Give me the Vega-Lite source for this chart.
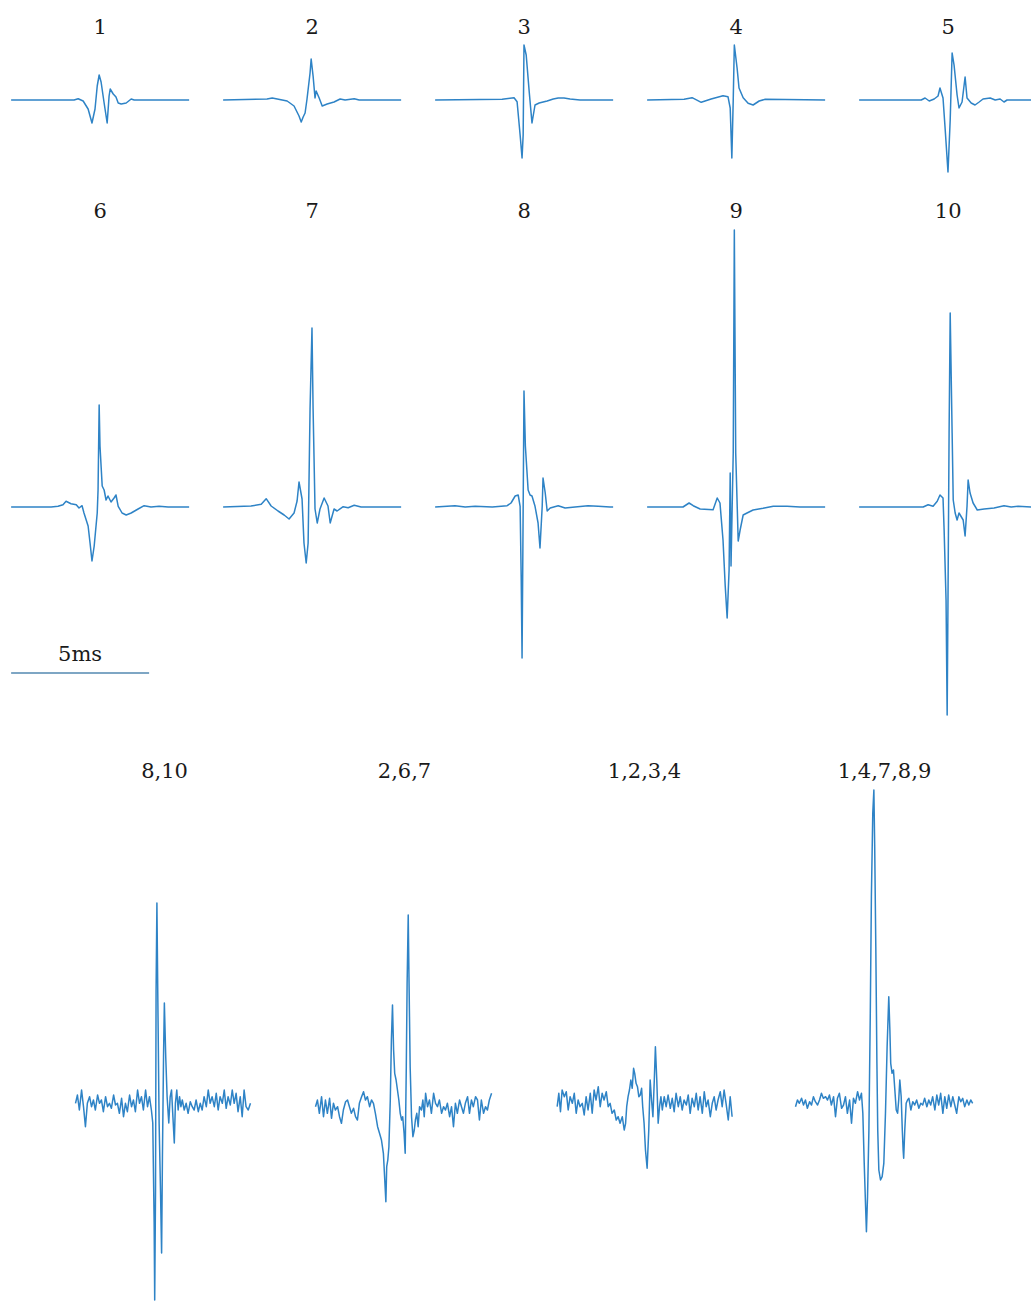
{
"$schema":"https://vega.github.io/schema/vega-lite/v6.json",
"padding":{"left":10,"top":17,"right":0,"bottom":0},
"config":{"view":{"stroke":null},"header":{"labelFont":"DejaVu Serif","labelFontSize":21,"labelColor":"#1a1a1a","labelPadding":0}},
"data":{"values":[
{"p":"1","t":0,"v":0},{"p":"1","t":2.28,"v":0},{"p":"1","t":2.43,"v":1.3},{"p":"1","t":2.61,"v":-1},{"p":"1","t":2.79,"v":-9},{"p":"1","t":2.93,"v":-23},{"p":"1","t":3.04,"v":-9},{"p":"1","t":3.12,"v":14},{"p":"1","t":3.19,"v":25},{"p":"1","t":3.26,"v":18},{"p":"1","t":3.37,"v":-3},{"p":"1","t":3.48,"v":-23},{"p":"1","t":3.55,"v":4},{"p":"1","t":3.59,"v":11},{"p":"1","t":3.70,"v":6},{"p":"1","t":3.80,"v":3},{"p":"1","t":3.88,"v":-3},{"p":"1","t":3.99,"v":-4},{"p":"1","t":4.17,"v":-3},{"p":"1","t":4.35,"v":1},{"p":"1","t":4.46,"v":0},{"p":"1","t":6.45,"v":0},
{"p":"2","t":0,"v":0},{"p":"2","t":1.59,"v":1},{"p":"2","t":1.78,"v":2},{"p":"2","t":1.96,"v":1},{"p":"2","t":2.32,"v":-1},{"p":"2","t":2.57,"v":-6},{"p":"2","t":2.75,"v":-16},{"p":"2","t":2.83,"v":-22},{"p":"2","t":2.90,"v":-17},{"p":"2","t":2.97,"v":-13},{"p":"2","t":3.04,"v":1},{"p":"2","t":3.15,"v":27},{"p":"2","t":3.19,"v":41},{"p":"2","t":3.26,"v":24},{"p":"2","t":3.33,"v":2},{"p":"2","t":3.37,"v":9},{"p":"2","t":3.48,"v":2},{"p":"2","t":3.59,"v":-6},{"p":"2","t":3.77,"v":-4},{"p":"2","t":4.02,"v":-2},{"p":"2","t":4.24,"v":1},{"p":"2","t":4.42,"v":0},{"p":"2","t":4.75,"v":1.3},{"p":"2","t":4.93,"v":0},{"p":"2","t":6.45,"v":0},
{"p":"3","t":0,"v":0},{"p":"3","t":2.43,"v":0.7},{"p":"3","t":2.86,"v":2.3},{"p":"3","t":2.97,"v":-1.7},{"p":"3","t":3.08,"v":-35},{"p":"3","t":3.15,"v":-58},{"p":"3","t":3.19,"v":-35},{"p":"3","t":3.22,"v":55},{"p":"3","t":3.30,"v":45},{"p":"3","t":3.41,"v":8},{"p":"3","t":3.51,"v":-23},{"p":"3","t":3.62,"v":-5},{"p":"3","t":3.77,"v":-3},{"p":"3","t":4.06,"v":-1},{"p":"3","t":4.28,"v":1},{"p":"3","t":4.46,"v":2},{"p":"3","t":4.67,"v":2},{"p":"3","t":4.89,"v":1},{"p":"3","t":5.25,"v":0},{"p":"3","t":6.45,"v":0},
{"p":"4","t":0,"v":0},{"p":"4","t":1.34,"v":0.7},{"p":"4","t":1.63,"v":2.3},{"p":"4","t":1.96,"v":-2.3},{"p":"4","t":2.32,"v":1},{"p":"4","t":2.75,"v":4.3},{"p":"4","t":2.93,"v":3.3},{"p":"4","t":3.01,"v":-8},{"p":"4","t":3.07,"v":-58},{"p":"4","t":3.12,"v":0},{"p":"4","t":3.16,"v":55},{"p":"4","t":3.26,"v":32},{"p":"4","t":3.33,"v":12},{"p":"4","t":3.48,"v":2.3},{"p":"4","t":3.66,"v":-3.3},{"p":"4","t":3.84,"v":-5},{"p":"4","t":4.06,"v":-1},{"p":"4","t":4.28,"v":0.7},{"p":"4","t":6.45,"v":0},
{"p":"5","t":0,"v":0},{"p":"5","t":2.25,"v":0},{"p":"5","t":2.39,"v":2},{"p":"5","t":2.54,"v":-1},{"p":"5","t":2.72,"v":1},{"p":"5","t":2.86,"v":4},{"p":"5","t":2.93,"v":12},{"p":"5","t":3.04,"v":2},{"p":"5","t":3.12,"v":-30},{"p":"5","t":3.22,"v":-72},{"p":"5","t":3.30,"v":-20},{"p":"5","t":3.37,"v":47},{"p":"5","t":3.44,"v":35},{"p":"5","t":3.55,"v":5},{"p":"5","t":3.62,"v":-8},{"p":"5","t":3.73,"v":-2},{"p":"5","t":3.84,"v":23},{"p":"5","t":3.91,"v":2},{"p":"5","t":4.06,"v":-3},{"p":"5","t":4.20,"v":-5},{"p":"5","t":4.35,"v":-2},{"p":"5","t":4.49,"v":1},{"p":"5","t":4.75,"v":2},{"p":"5","t":4.93,"v":0},{"p":"5","t":5.11,"v":1},{"p":"5","t":5.25,"v":-2},{"p":"5","t":5.36,"v":0},{"p":"5","t":6.45,"v":0},
{"p":"6","t":0,"v":0},{"p":"6","t":1.45,"v":0},{"p":"6","t":1.70,"v":0.7},{"p":"6","t":1.88,"v":2.3},{"p":"6","t":1.99,"v":5.7},{"p":"6","t":2.17,"v":3.3},{"p":"6","t":2.36,"v":2.3},{"p":"6","t":2.46,"v":-1},{"p":"6","t":2.57,"v":1.3},{"p":"6","t":2.64,"v":-6},{"p":"6","t":2.79,"v":-19},{"p":"6","t":2.86,"v":-36},{"p":"6","t":2.93,"v":-54},{"p":"6","t":3.01,"v":-39},{"p":"6","t":3.12,"v":-6},{"p":"6","t":3.15,"v":17},{"p":"6","t":3.19,"v":102},{"p":"6","t":3.22,"v":61},{"p":"6","t":3.30,"v":21},{"p":"6","t":3.37,"v":17},{"p":"6","t":3.44,"v":7},{"p":"6","t":3.51,"v":11},{"p":"6","t":3.62,"v":5},{"p":"6","t":3.73,"v":9},{"p":"6","t":3.80,"v":12},{"p":"6","t":3.88,"v":0.7},{"p":"6","t":4.02,"v":-6},{"p":"6","t":4.17,"v":-8},{"p":"6","t":4.35,"v":-6},{"p":"6","t":4.60,"v":-2},{"p":"6","t":4.82,"v":1.3},{"p":"6","t":5.07,"v":0},{"p":"6","t":5.36,"v":0.7},{"p":"6","t":5.69,"v":0},{"p":"6","t":6.45,"v":0},
{"p":"6","k":"bar","t":0,"t2":5,"v":-166},
{"p":"6","k":"lbl","t":2.5,"v":-148,"s":"5ms"},
{"p":"7","t":0,"v":0},{"p":"7","t":1.01,"v":1},{"p":"7","t":1.38,"v":2.7},{"p":"7","t":1.56,"v":8.3},{"p":"7","t":1.74,"v":1},{"p":"7","t":1.99,"v":-4},{"p":"7","t":2.21,"v":-8},{"p":"7","t":2.39,"v":-12},{"p":"7","t":2.57,"v":-6},{"p":"7","t":2.68,"v":6},{"p":"7","t":2.75,"v":25},{"p":"7","t":2.86,"v":8},{"p":"7","t":2.93,"v":-36},{"p":"7","t":3.01,"v":-56},{"p":"7","t":3.08,"v":-36},{"p":"7","t":3.15,"v":98},{"p":"7","t":3.22,"v":179},{"p":"7","t":3.26,"v":98},{"p":"7","t":3.33,"v":-2},{"p":"7","t":3.41,"v":-16},{"p":"7","t":3.51,"v":-2},{"p":"7","t":3.66,"v":9},{"p":"7","t":3.80,"v":1},{"p":"7","t":3.88,"v":-16},{"p":"7","t":4.02,"v":-2},{"p":"7","t":4.13,"v":-4},{"p":"7","t":4.35,"v":0.3},{"p":"7","t":4.53,"v":-0.7},{"p":"7","t":4.75,"v":1.7},{"p":"7","t":5.00,"v":0},{"p":"7","t":6.45,"v":0},
{"p":"8","t":0,"v":0},{"p":"8","t":0.72,"v":1.3},{"p":"8","t":1.09,"v":0},{"p":"8","t":1.45,"v":0.7},{"p":"8","t":2.07,"v":0},{"p":"8","t":2.61,"v":1.3},{"p":"8","t":2.75,"v":4},{"p":"8","t":2.90,"v":11},{"p":"8","t":3.01,"v":12},{"p":"8","t":3.08,"v":0.7},{"p":"8","t":3.12,"v":-73},{"p":"8","t":3.15,"v":-151},{"p":"8","t":3.18,"v":-40},{"p":"8","t":3.22,"v":116},{"p":"8","t":3.27,"v":61},{"p":"8","t":3.37,"v":17},{"p":"8","t":3.44,"v":12},{"p":"8","t":3.51,"v":11},{"p":"8","t":3.62,"v":0.7},{"p":"8","t":3.73,"v":-16},{"p":"8","t":3.80,"v":-41},{"p":"8","t":3.88,"v":0.7},{"p":"8","t":3.91,"v":29},{"p":"8","t":3.99,"v":14},{"p":"8","t":4.06,"v":-4},{"p":"8","t":4.17,"v":-1},{"p":"8","t":4.46,"v":1.3},{"p":"8","t":4.71,"v":-1},{"p":"8","t":5.07,"v":0},{"p":"8","t":5.54,"v":1.3},{"p":"8","t":5.91,"v":0.7},{"p":"8","t":6.34,"v":0},{"p":"8","t":6.45,"v":0},
{"p":"9","t":0,"v":0},{"p":"9","t":1.30,"v":0},{"p":"9","t":1.52,"v":4},{"p":"9","t":1.67,"v":1.3},{"p":"9","t":1.92,"v":-2},{"p":"9","t":2.39,"v":-2.7},{"p":"9","t":2.54,"v":9},{"p":"9","t":2.64,"v":4},{"p":"9","t":2.75,"v":-33},{"p":"9","t":2.83,"v":-79},{"p":"9","t":2.90,"v":-111},{"p":"9","t":2.97,"v":-63},{"p":"9","t":3.01,"v":34},{"p":"9","t":3.04,"v":-59},{"p":"9","t":3.12,"v":54},{"p":"9","t":3.16,"v":277},{"p":"9","t":3.21,"v":54},{"p":"9","t":3.30,"v":-34},{"p":"9","t":3.37,"v":-23},{"p":"9","t":3.48,"v":-8},{"p":"9","t":3.62,"v":-6},{"p":"9","t":3.84,"v":-3},{"p":"9","t":4.20,"v":-1.3},{"p":"9","t":4.57,"v":0.7},{"p":"9","t":5.07,"v":0.7},{"p":"9","t":5.54,"v":0},{"p":"9","t":6.45,"v":0},
{"p":"10","t":0,"v":0},{"p":"10","t":2.32,"v":0},{"p":"10","t":2.50,"v":2.3},{"p":"10","t":2.68,"v":0.7},{"p":"10","t":2.83,"v":5.7},{"p":"10","t":2.93,"v":12},{"p":"10","t":3.04,"v":9},{"p":"10","t":3.08,"v":-23},{"p":"10","t":3.15,"v":-93},{"p":"10","t":3.19,"v":-208},{"p":"10","t":3.22,"v":-93},{"p":"10","t":3.26,"v":74},{"p":"10","t":3.30,"v":194},{"p":"10","t":3.37,"v":74},{"p":"10","t":3.41,"v":7},{"p":"10","t":3.48,"v":-6},{"p":"10","t":3.55,"v":-13},{"p":"10","t":3.62,"v":-6},{"p":"10","t":3.77,"v":-13},{"p":"10","t":3.84,"v":-29},{"p":"10","t":3.91,"v":0.7},{"p":"10","t":3.95,"v":27},{"p":"10","t":4.02,"v":14},{"p":"10","t":4.13,"v":4},{"p":"10","t":4.28,"v":-3},{"p":"10","t":4.53,"v":-2},{"p":"10","t":4.89,"v":-1},{"p":"10","t":5.25,"v":1.3},{"p":"10","t":5.51,"v":0},{"p":"10","t":5.76,"v":0.7},{"p":"10","t":6.23,"v":0},{"p":"10","t":6.45,"v":0},
{"p":"8,10","t":0,"v":1.7},{"p":"8,10","t":0.07,"v":10},{"p":"8,10","t":0.14,"v":-5},{"p":"8,10","t":0.22,"v":15},{"p":"8,10","t":0.29,"v":-1.7},{"p":"8,10","t":0.36,"v":-21.7},{"p":"8,10","t":0.43,"v":1.7},{"p":"8,10","t":0.51,"v":8.3},{"p":"8,10","t":0.58,"v":-1.7},{"p":"8,10","t":0.65,"v":5},{"p":"8,10","t":0.72,"v":-5},{"p":"8,10","t":0.80,"v":10},{"p":"8,10","t":0.87,"v":1.7},{"p":"8,10","t":0.94,"v":5},{"p":"8,10","t":1.01,"v":-6.7},{"p":"8,10","t":1.09,"v":8.3},{"p":"8,10","t":1.16,"v":-1.7},{"p":"8,10","t":1.23,"v":1.7},{"p":"8,10","t":1.30,"v":-3.3},{"p":"8,10","t":1.38,"v":10},{"p":"8,10","t":1.45,"v":0},{"p":"8,10","t":1.52,"v":1.7},{"p":"8,10","t":1.59,"v":-8.3},{"p":"8,10","t":1.67,"v":6.7},{"p":"8,10","t":1.74,"v":-11.7},{"p":"8,10","t":1.81,"v":1.7},{"p":"8,10","t":1.88,"v":-6.7},{"p":"8,10","t":1.96,"v":10},{"p":"8,10","t":2.03,"v":-1.7},{"p":"8,10","t":2.10,"v":5},{"p":"8,10","t":2.17,"v":-6.7},{"p":"8,10","t":2.25,"v":15},{"p":"8,10","t":2.32,"v":1.7},{"p":"8,10","t":2.39,"v":8.3},{"p":"8,10","t":2.46,"v":-5},{"p":"8,10","t":2.54,"v":15},{"p":"8,10","t":2.61,"v":-1.7},{"p":"8,10","t":2.68,"v":8.3},{"p":"8,10","t":2.75,"v":-5},{"p":"8,10","t":2.80,"v":-18},{"p":"8,10","t":2.85,"v":-118},{"p":"8,10","t":2.87,"v":-195},{"p":"8,10","t":2.90,"v":-85},{"p":"8,10","t":2.92,"v":115},{"p":"8,10","t":2.95,"v":202},{"p":"8,10","t":2.98,"v":115},{"p":"8,10","t":3.03,"v":-18},{"p":"8,10","t":3.08,"v":-85},{"p":"8,10","t":3.12,"v":-148},{"p":"8,10","t":3.15,"v":-52},{"p":"8,10","t":3.19,"v":48},{"p":"8,10","t":3.22,"v":102},{"p":"8,10","t":3.27,"v":48},{"p":"8,10","t":3.32,"v":8},{"p":"8,10","t":3.38,"v":-18},{"p":"8,10","t":3.43,"v":8},{"p":"8,10","t":3.48,"v":15},{"p":"8,10","t":3.53,"v":-12},{"p":"8,10","t":3.58,"v":-38},{"p":"8,10","t":3.62,"v":1.7},{"p":"8,10","t":3.67,"v":15},{"p":"8,10","t":3.72,"v":-5},{"p":"8,10","t":3.77,"v":8.3},{"p":"8,10","t":3.82,"v":-1.7},{"p":"8,10","t":3.87,"v":5},{"p":"8,10","t":3.94,"v":-5},{"p":"8,10","t":4.01,"v":1.7},{"p":"8,10","t":4.08,"v":-8.3},{"p":"8,10","t":4.16,"v":3.3},{"p":"8,10","t":4.23,"v":-1.7},{"p":"8,10","t":4.30,"v":-5},{"p":"8,10","t":4.37,"v":5},{"p":"8,10","t":4.45,"v":-6.7},{"p":"8,10","t":4.52,"v":1.7},{"p":"8,10","t":4.59,"v":-5},{"p":"8,10","t":4.66,"v":8.3},{"p":"8,10","t":4.74,"v":-1.7},{"p":"8,10","t":4.81,"v":15},{"p":"8,10","t":4.88,"v":1.7},{"p":"8,10","t":4.95,"v":8.3},{"p":"8,10","t":5.03,"v":-1.7},{"p":"8,10","t":5.10,"v":11.7},{"p":"8,10","t":5.17,"v":-5},{"p":"8,10","t":5.24,"v":8.3},{"p":"8,10","t":5.32,"v":1.7},{"p":"8,10","t":5.39,"v":15},{"p":"8,10","t":5.46,"v":-3.3},{"p":"8,10","t":5.53,"v":8.3},{"p":"8,10","t":5.61,"v":0},{"p":"8,10","t":5.68,"v":15},{"p":"8,10","t":5.75,"v":1.7},{"p":"8,10","t":5.82,"v":11.7},{"p":"8,10","t":5.89,"v":-6.7},{"p":"8,10","t":5.97,"v":8.3},{"p":"8,10","t":6.04,"v":-11.7},{"p":"8,10","t":6.11,"v":15},{"p":"8,10","t":6.18,"v":-1.7},{"p":"8,10","t":6.26,"v":-5},{"p":"8,10","t":6.34,"v":1.7},
{"p":"2,6,7","t":0,"v":-1.7},{"p":"2,6,7","t":0.07,"v":5},{"p":"2,6,7","t":0.14,"v":-8.3},{"p":"2,6,7","t":0.22,"v":8.3},{"p":"2,6,7","t":0.29,"v":-11.7},{"p":"2,6,7","t":0.36,"v":5},{"p":"2,6,7","t":0.43,"v":-8.3},{"p":"2,6,7","t":0.51,"v":6.7},{"p":"2,6,7","t":0.58,"v":-13.3},{"p":"2,6,7","t":0.65,"v":1.7},{"p":"2,6,7","t":0.72,"v":-5},{"p":"2,6,7","t":0.80,"v":-1.7},{"p":"2,6,7","t":0.87,"v":-11.7},{"p":"2,6,7","t":0.94,"v":-18.3},{"p":"2,6,7","t":1.01,"v":-5},{"p":"2,6,7","t":1.09,"v":3.3},{"p":"2,6,7","t":1.16,"v":5},{"p":"2,6,7","t":1.23,"v":-1.7},{"p":"2,6,7","t":1.30,"v":-8.3},{"p":"2,6,7","t":1.38,"v":-3.3},{"p":"2,6,7","t":1.45,"v":-11.7},{"p":"2,6,7","t":1.52,"v":-15},{"p":"2,6,7","t":1.59,"v":1.7},{"p":"2,6,7","t":1.67,"v":8.3},{"p":"2,6,7","t":1.74,"v":13.3},{"p":"2,6,7","t":1.81,"v":5},{"p":"2,6,7","t":1.88,"v":8.3},{"p":"2,6,7","t":1.96,"v":-1.7},{"p":"2,6,7","t":2.03,"v":5},{"p":"2,6,7","t":2.10,"v":1.7},{"p":"2,6,7","t":2.17,"v":-8.3},{"p":"2,6,7","t":2.25,"v":-21.7},{"p":"2,6,7","t":2.32,"v":-28.3},{"p":"2,6,7","t":2.39,"v":-35},{"p":"2,6,7","t":2.46,"v":-48.3},{"p":"2,6,7","t":2.51,"v":-75},{"p":"2,6,7","t":2.55,"v":-96.7},{"p":"2,6,7","t":2.58,"v":-61.7},{"p":"2,6,7","t":2.62,"v":-55},{"p":"2,6,7","t":2.66,"v":-41.7},{"p":"2,6,7","t":2.71,"v":5},{"p":"2,6,7","t":2.75,"v":65},{"p":"2,6,7","t":2.79,"v":100},{"p":"2,6,7","t":2.83,"v":55},{"p":"2,6,7","t":2.87,"v":31.7},{"p":"2,6,7","t":2.92,"v":25},{"p":"2,6,7","t":2.97,"v":15},{"p":"2,6,7","t":3.02,"v":5},{"p":"2,6,7","t":3.07,"v":-8.3},{"p":"2,6,7","t":3.12,"v":-15},{"p":"2,6,7","t":3.16,"v":-11.7},{"p":"2,6,7","t":3.21,"v":-28.3},{"p":"2,6,7","t":3.25,"v":-48.3},{"p":"2,6,7","t":3.29,"v":38.3},{"p":"2,6,7","t":3.32,"v":121.7},{"p":"2,6,7","t":3.36,"v":190},{"p":"2,6,7","t":3.39,"v":121.7},{"p":"2,6,7","t":3.43,"v":38.3},{"p":"2,6,7","t":3.48,"v":-11.7},{"p":"2,6,7","t":3.53,"v":-31.7},{"p":"2,6,7","t":3.58,"v":-25},{"p":"2,6,7","t":3.62,"v":-15},{"p":"2,6,7","t":3.67,"v":-8.3},{"p":"2,6,7","t":3.72,"v":-21.7},{"p":"2,6,7","t":3.77,"v":-1.7},{"p":"2,6,7","t":3.84,"v":-5},{"p":"2,6,7","t":3.89,"v":5},{"p":"2,6,7","t":3.94,"v":-11.7},{"p":"2,6,7","t":3.99,"v":11.7},{"p":"2,6,7","t":4.06,"v":-1.7},{"p":"2,6,7","t":4.13,"v":5},{"p":"2,6,7","t":4.20,"v":-8.3},{"p":"2,6,7","t":4.28,"v":11.7},{"p":"2,6,7","t":4.35,"v":1.7},{"p":"2,6,7","t":4.42,"v":-1.7},{"p":"2,6,7","t":4.49,"v":5},{"p":"2,6,7","t":4.57,"v":-8.3},{"p":"2,6,7","t":4.64,"v":-1.7},{"p":"2,6,7","t":4.71,"v":-5},{"p":"2,6,7","t":4.78,"v":1.7},{"p":"2,6,7","t":4.86,"v":-11.7},{"p":"2,6,7","t":4.93,"v":-1.7},{"p":"2,6,7","t":5.00,"v":-21.7},{"p":"2,6,7","t":5.07,"v":1.7},{"p":"2,6,7","t":5.14,"v":-8.3},{"p":"2,6,7","t":5.22,"v":5},{"p":"2,6,7","t":5.29,"v":-1.7},{"p":"2,6,7","t":5.36,"v":-8.3},{"p":"2,6,7","t":5.43,"v":1.7},{"p":"2,6,7","t":5.51,"v":8.3},{"p":"2,6,7","t":5.58,"v":-8.3},{"p":"2,6,7","t":5.65,"v":5},{"p":"2,6,7","t":5.72,"v":-1.7},{"p":"2,6,7","t":5.80,"v":8.3},{"p":"2,6,7","t":5.87,"v":5},{"p":"2,6,7","t":5.94,"v":-15},{"p":"2,6,7","t":6.01,"v":5},{"p":"2,6,7","t":6.09,"v":-8.3},{"p":"2,6,7","t":6.16,"v":-1.7},{"p":"2,6,7","t":6.23,"v":-5},{"p":"2,6,7","t":6.30,"v":5},{"p":"2,6,7","t":6.38,"v":11.7},
{"p":"1,2,3,4","t":0.06,"v":-1.7},{"p":"1,2,3,4","t":0.12,"v":11.7},{"p":"1,2,3,4","t":0.18,"v":-6.7},{"p":"1,2,3,4","t":0.24,"v":15},{"p":"1,2,3,4","t":0.32,"v":8.3},{"p":"1,2,3,4","t":0.39,"v":13.3},{"p":"1,2,3,4","t":0.46,"v":-5},{"p":"1,2,3,4","t":0.53,"v":8.3},{"p":"1,2,3,4","t":0.61,"v":1.7},{"p":"1,2,3,4","t":0.68,"v":11.7},{"p":"1,2,3,4","t":0.75,"v":-8.3},{"p":"1,2,3,4","t":0.82,"v":5},{"p":"1,2,3,4","t":0.89,"v":-1.7},{"p":"1,2,3,4","t":0.97,"v":1.7},{"p":"1,2,3,4","t":1.04,"v":-10},{"p":"1,2,3,4","t":1.11,"v":8.3},{"p":"1,2,3,4","t":1.18,"v":-5},{"p":"1,2,3,4","t":1.26,"v":11.7},{"p":"1,2,3,4","t":1.33,"v":-8.3},{"p":"1,2,3,4","t":1.40,"v":15},{"p":"1,2,3,4","t":1.47,"v":5},{"p":"1,2,3,4","t":1.55,"v":18.3},{"p":"1,2,3,4","t":1.62,"v":-1.7},{"p":"1,2,3,4","t":1.69,"v":11.7},{"p":"1,2,3,4","t":1.76,"v":5},{"p":"1,2,3,4","t":1.84,"v":13.3},{"p":"1,2,3,4","t":1.91,"v":-1.7},{"p":"1,2,3,4","t":1.98,"v":1.7},{"p":"1,2,3,4","t":2.05,"v":-8.3},{"p":"1,2,3,4","t":2.13,"v":-5},{"p":"1,2,3,4","t":2.20,"v":-15},{"p":"1,2,3,4","t":2.27,"v":-11.7},{"p":"1,2,3,4","t":2.34,"v":-18.3},{"p":"1,2,3,4","t":2.42,"v":-11.7},{"p":"1,2,3,4","t":2.49,"v":-25},{"p":"1,2,3,4","t":2.54,"v":-18.3},{"p":"1,2,3,4","t":2.58,"v":-1.7},{"p":"1,2,3,4","t":2.63,"v":8.3},{"p":"1,2,3,4","t":2.68,"v":15},{"p":"1,2,3,4","t":2.73,"v":25},{"p":"1,2,3,4","t":2.78,"v":16.7},{"p":"1,2,3,4","t":2.83,"v":36.7},{"p":"1,2,3,4","t":2.87,"v":31.7},{"p":"1,2,3,4","t":2.92,"v":21.7},{"p":"1,2,3,4","t":2.97,"v":18.3},{"p":"1,2,3,4","t":3.02,"v":8.3},{"p":"1,2,3,4","t":3.07,"v":10},{"p":"1,2,3,4","t":3.12,"v":16.7},{"p":"1,2,3,4","t":3.16,"v":-1.7},{"p":"1,2,3,4","t":3.21,"v":-18.3},{"p":"1,2,3,4","t":3.26,"v":-45},{"p":"1,2,3,4","t":3.32,"v":-63.3},{"p":"1,2,3,4","t":3.38,"v":-25},{"p":"1,2,3,4","t":3.43,"v":25},{"p":"1,2,3,4","t":3.48,"v":5},{"p":"1,2,3,4","t":3.53,"v":-11.7},{"p":"1,2,3,4","t":3.58,"v":25},{"p":"1,2,3,4","t":3.62,"v":58.3},{"p":"1,2,3,4","t":3.67,"v":25},{"p":"1,2,3,4","t":3.72,"v":-18.3},{"p":"1,2,3,4","t":3.77,"v":-1.7},{"p":"1,2,3,4","t":3.82,"v":8.3},{"p":"1,2,3,4","t":3.87,"v":-5},{"p":"1,2,3,4","t":3.94,"v":8.3},{"p":"1,2,3,4","t":4.01,"v":-1.7},{"p":"1,2,3,4","t":4.08,"v":10},{"p":"1,2,3,4","t":4.16,"v":-3.3},{"p":"1,2,3,4","t":4.23,"v":6.7},{"p":"1,2,3,4","t":4.30,"v":-6.7},{"p":"1,2,3,4","t":4.37,"v":11.7},{"p":"1,2,3,4","t":4.45,"v":-1.7},{"p":"1,2,3,4","t":4.52,"v":8.3},{"p":"1,2,3,4","t":4.59,"v":-5},{"p":"1,2,3,4","t":4.66,"v":5},{"p":"1,2,3,4","t":4.74,"v":0},{"p":"1,2,3,4","t":4.81,"v":10},{"p":"1,2,3,4","t":4.88,"v":-8.3},{"p":"1,2,3,4","t":4.95,"v":6.7},{"p":"1,2,3,4","t":5.03,"v":-1.7},{"p":"1,2,3,4","t":5.10,"v":11.7},{"p":"1,2,3,4","t":5.17,"v":-5},{"p":"1,2,3,4","t":5.24,"v":8.3},{"p":"1,2,3,4","t":5.32,"v":-8.3},{"p":"1,2,3,4","t":5.39,"v":13.3},{"p":"1,2,3,4","t":5.46,"v":-1.7},{"p":"1,2,3,4","t":5.53,"v":5},{"p":"1,2,3,4","t":5.61,"v":-11.7},{"p":"1,2,3,4","t":5.68,"v":1.7},{"p":"1,2,3,4","t":5.75,"v":8.3},{"p":"1,2,3,4","t":5.82,"v":-5},{"p":"1,2,3,4","t":5.89,"v":5},{"p":"1,2,3,4","t":5.97,"v":13.3},{"p":"1,2,3,4","t":6.04,"v":-1.7},{"p":"1,2,3,4","t":6.11,"v":15},{"p":"1,2,3,4","t":6.18,"v":1.7},{"p":"1,2,3,4","t":6.26,"v":-15},{"p":"1,2,3,4","t":6.33,"v":8.3},{"p":"1,2,3,4","t":6.40,"v":-11.7},
{"p":"1,4,7,8,9","t":0,"v":-1.7},{"p":"1,4,7,8,9","t":0.07,"v":5},{"p":"1,4,7,8,9","t":0.14,"v":1.7},{"p":"1,4,7,8,9","t":0.22,"v":6.7},{"p":"1,4,7,8,9","t":0.29,"v":0},{"p":"1,4,7,8,9","t":0.36,"v":5},{"p":"1,4,7,8,9","t":0.43,"v":-3.3},{"p":"1,4,7,8,9","t":0.51,"v":3.3},{"p":"1,4,7,8,9","t":0.58,"v":0},{"p":"1,4,7,8,9","t":0.65,"v":8.3},{"p":"1,4,7,8,9","t":0.72,"v":3.3},{"p":"1,4,7,8,9","t":0.80,"v":0},{"p":"1,4,7,8,9","t":0.87,"v":5},{"p":"1,4,7,8,9","t":0.94,"v":11.7},{"p":"1,4,7,8,9","t":1.01,"v":6.7},{"p":"1,4,7,8,9","t":1.09,"v":8.3},{"p":"1,4,7,8,9","t":1.16,"v":5},{"p":"1,4,7,8,9","t":1.23,"v":10},{"p":"1,4,7,8,9","t":1.30,"v":0},{"p":"1,4,7,8,9","t":1.38,"v":8.3},{"p":"1,4,7,8,9","t":1.45,"v":-11.7},{"p":"1,4,7,8,9","t":1.52,"v":6.7},{"p":"1,4,7,8,9","t":1.59,"v":11.7},{"p":"1,4,7,8,9","t":1.67,"v":-3.3},{"p":"1,4,7,8,9","t":1.74,"v":0},{"p":"1,4,7,8,9","t":1.81,"v":8.3},{"p":"1,4,7,8,9","t":1.88,"v":-8.3},{"p":"1,4,7,8,9","t":1.96,"v":5},{"p":"1,4,7,8,9","t":2.03,"v":-18.3},{"p":"1,4,7,8,9","t":2.10,"v":6.7},{"p":"1,4,7,8,9","t":2.17,"v":1.7},{"p":"1,4,7,8,9","t":2.25,"v":13.3},{"p":"1,4,7,8,9","t":2.32,"v":5},{"p":"1,4,7,8,9","t":2.39,"v":11.7},{"p":"1,4,7,8,9","t":2.44,"v":-8.3},{"p":"1,4,7,8,9","t":2.49,"v":-58.3},{"p":"1,4,7,8,9","t":2.54,"v":-101.7},{"p":"1,4,7,8,9","t":2.57,"v":-126.7},{"p":"1,4,7,8,9","t":2.61,"v":-91.7},{"p":"1,4,7,8,9","t":2.66,"v":-25},{"p":"1,4,7,8,9","t":2.71,"v":91.7},{"p":"1,4,7,8,9","t":2.75,"v":208.3},{"p":"1,4,7,8,9","t":2.80,"v":291.7},{"p":"1,4,7,8,9","t":2.84,"v":315},{"p":"1,4,7,8,9","t":2.87,"v":258.3},{"p":"1,4,7,8,9","t":2.91,"v":158.3},{"p":"1,4,7,8,9","t":2.95,"v":41.7},{"p":"1,4,7,8,9","t":2.98,"v":-25},{"p":"1,4,7,8,9","t":3.02,"v":-65},{"p":"1,4,7,8,9","t":3.08,"v":-75},{"p":"1,4,7,8,9","t":3.14,"v":-71.7},{"p":"1,4,7,8,9","t":3.20,"v":-58.3},{"p":"1,4,7,8,9","t":3.26,"v":-8.3},{"p":"1,4,7,8,9","t":3.32,"v":58.3},{"p":"1,4,7,8,9","t":3.36,"v":91.7},{"p":"1,4,7,8,9","t":3.38,"v":108.3},{"p":"1,4,7,8,9","t":3.42,"v":75},{"p":"1,4,7,8,9","t":3.45,"v":41.7},{"p":"1,4,7,8,9","t":3.50,"v":31.7},{"p":"1,4,7,8,9","t":3.55,"v":35},{"p":"1,4,7,8,9","t":3.60,"v":15},{"p":"1,4,7,8,9","t":3.65,"v":-5},{"p":"1,4,7,8,9","t":3.70,"v":-8.3},{"p":"1,4,7,8,9","t":3.74,"v":5},{"p":"1,4,7,8,9","t":3.78,"v":25},{"p":"1,4,7,8,9","t":3.83,"v":8.3},{"p":"1,4,7,8,9","t":3.87,"v":-25},{"p":"1,4,7,8,9","t":3.90,"v":-45},{"p":"1,4,7,8,9","t":3.92,"v":-53.3},{"p":"1,4,7,8,9","t":3.96,"v":-25},{"p":"1,4,7,8,9","t":4.01,"v":1.7},{"p":"1,4,7,8,9","t":4.06,"v":5},{"p":"1,4,7,8,9","t":4.11,"v":6.7},{"p":"1,4,7,8,9","t":4.18,"v":-5},{"p":"1,4,7,8,9","t":4.25,"v":3.3},{"p":"1,4,7,8,9","t":4.32,"v":0},{"p":"1,4,7,8,9","t":4.39,"v":5},{"p":"1,4,7,8,9","t":4.47,"v":-3.3},{"p":"1,4,7,8,9","t":4.54,"v":1.7},{"p":"1,4,7,8,9","t":4.61,"v":0},{"p":"1,4,7,8,9","t":4.68,"v":6.7},{"p":"1,4,7,8,9","t":4.76,"v":-1.7},{"p":"1,4,7,8,9","t":4.83,"v":5},{"p":"1,4,7,8,9","t":4.90,"v":0},{"p":"1,4,7,8,9","t":4.97,"v":8.3},{"p":"1,4,7,8,9","t":5.05,"v":-5},{"p":"1,4,7,8,9","t":5.12,"v":10},{"p":"1,4,7,8,9","t":5.19,"v":0},{"p":"1,4,7,8,9","t":5.26,"v":11.7},{"p":"1,4,7,8,9","t":5.34,"v":-8.3},{"p":"1,4,7,8,9","t":5.41,"v":8.3},{"p":"1,4,7,8,9","t":5.48,"v":-3.3},{"p":"1,4,7,8,9","t":5.55,"v":10},{"p":"1,4,7,8,9","t":5.63,"v":-1.7},{"p":"1,4,7,8,9","t":5.70,"v":8.3},{"p":"1,4,7,8,9","t":5.77,"v":0},{"p":"1,4,7,8,9","t":5.84,"v":-8.3},{"p":"1,4,7,8,9","t":5.92,"v":8.3},{"p":"1,4,7,8,9","t":5.99,"v":3.3},{"p":"1,4,7,8,9","t":6.06,"v":6.7},{"p":"1,4,7,8,9","t":6.13,"v":-1.7},{"p":"1,4,7,8,9","t":6.21,"v":5},{"p":"1,4,7,8,9","t":6.28,"v":0},{"p":"1,4,7,8,9","t":6.35,"v":5},{"p":"1,4,7,8,9","t":6.42,"v":1.7}
]},
"vconcat":[
{"transform":[{"filter":{"field":"p","oneOf":["1","2","3","4","5"]}}],
 "facet":{"column":{"field":"p","type":"nominal","sort":["1","2","3","4","5"],"header":{"title":null}}},
 "spacing":34,
 "bounds":"flush",
 "spec":{"width":178,"height":142,
   "mark":{"type":"line","color":"#2e83c6","strokeWidth":1.5,"strokeJoin":"round"},
   "encoding":{"x":{"field":"t","type":"quantitative","scale":{"domain":[0,6.45],"nice":false},"axis":null},
               "y":{"field":"v","type":"quantitative","scale":{"domain":[-80,62],"nice":false,"zero":false},"axis":null}}}},
{"transform":[{"filter":{"field":"p","oneOf":["6","7","8","9","10"]}}],
 "facet":{"column":{"field":"p","type":"nominal","sort":["6","7","8","9","10"],"header":{"title":null}}},
 "spacing":34,
 "bounds":"flush",
 "spec":{"width":178,"height":518,
   "encoding":{"x":{"field":"t","type":"quantitative","scale":{"domain":[0,6.45],"nice":false},"axis":null},
               "y":{"field":"v","type":"quantitative","scale":{"domain":[-233,285],"nice":false,"zero":false},"axis":null}},
   "layer":[
    {"transform":[{"filter":"!datum.k"}],"mark":{"type":"line","color":"#2e83c6","strokeWidth":1.5,"strokeJoin":"round"}},
    {"transform":[{"filter":"datum.k === 'bar'"}],"mark":{"type":"rule","color":"#7ea6c4","strokeWidth":2},"encoding":{"x2":{"field":"t2"}}},
    {"transform":[{"filter":"datum.k === 'lbl'"}],"mark":{"type":"text","font":"DejaVu Serif","fontSize":21,"color":"#1a1a1a"},"encoding":{"text":{"field":"s"}}}
   ]}},
{"transform":[{"filter":{"field":"p","oneOf":["8,10","2,6,7","1,2,3,4","1,4,7,8,9"]}}],
 "facet":{"column":{"field":"p","type":"nominal","sort":["8,10","2,6,7","1,2,3,4","1,4,7,8,9"],"header":{"title":null}}},
 "spacing":62,
 "bounds":"flush",
 "spec":{"width":178,"height":520,
   "mark":{"type":"line","color":"#2e83c6","strokeWidth":1.5,"strokeJoin":"round"},
   "encoding":{"x":{"field":"t","type":"quantitative","scale":{"domain":[0,6.45],"nice":false},"axis":null},
               "y":{"field":"v","type":"quantitative","scale":{"domain":[-197,323],"nice":false,"zero":false},"axis":null}}}}
],
"spacing":21,
"center":true
}
